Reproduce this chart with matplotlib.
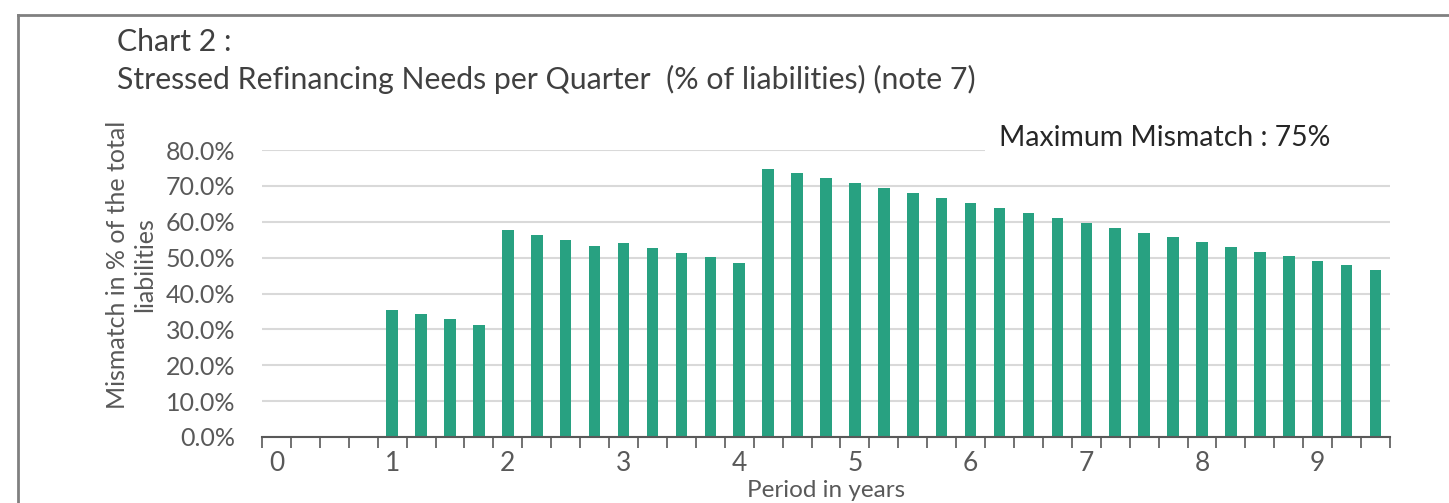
import numpy as np
import matplotlib
matplotlib.use('Agg')
import matplotlib.pyplot as plt
from matplotlib.patches import Rectangle

plt.rcParams['font.family'] = ['Lato', 'DejaVu Sans']

# quarters from 0 to 9.5 years
periods = np.arange(0, 9.75, 0.25)
mismatch = [0.0, 0.0, 0.0, 0.0,
            35.5, 34.3, 32.8, 31.3,
            57.7, 56.3, 54.9, 53.3,
            54.1, 52.7, 51.4, 50.1,
            48.6, 74.8, 73.5, 72.1,
            70.7, 69.3, 68.0, 66.6,
            65.3, 63.8, 62.5, 61.1,
            59.7, 58.3, 56.9, 55.7,
            54.4, 53.0, 51.6, 50.4,
            49.0, 47.9, 46.5]
year_labels = ['0', '1', '2', '3', '4', '5', '6', '7', '8', '9']
yticks = [0, 10, 20, 30, 40, 50, 60, 70, 80]

bar_color = '#28a181'
text_color = '#404040'
tick_color = '#595959'

fig = plt.figure(figsize=(14.49, 5.03), dpi=100)
ax = fig.add_axes([262 / 1449, 1 - 437 / 503, 1128 / 1449, 287 / 503])

x = np.arange(len(periods))
ax.bar(x, mismatch, width=0.4, color=bar_color, zorder=3)

ax.set_xlim(-0.5, len(periods) - 0.5)
ax.set_ylim(0, 80)
ax.set_yticks(yticks)
ax.set_yticklabels([f'{v:.1f}%' for v in yticks], fontsize=18, color=tick_color)
ax.tick_params(axis='y', length=0, pad=19)
ax.grid(axis='y', color='#d9d9d9', linewidth=1.5, zorder=0)

# ticks between categories, labels at whole years
ax.set_xticks(np.arange(-0.5, len(periods)), minor=True)
ax.set_xticks(x[::4])
ax.set_xticklabels(year_labels, fontsize=19, color=tick_color)
ax.tick_params(axis='x', which='major', length=0, pad=10)
ax.tick_params(axis='x', which='minor', length=8, width=1.2, color=tick_color, direction='out')

for s in ['top', 'right', 'left']:
    ax.spines[s].set_visible(False)
ax.spines['bottom'].set_color(tick_color)
ax.spines['bottom'].set_linewidth(1.5)
ax.spines['bottom'].set_zorder(4)

ax.set_xlabel('Period in years', fontsize=17.5, color=tick_color, labelpad=3)
fig.text(131 / 1449, 1 - 265 / 503, 'Mismatch in % of the total\nliabilities',
         rotation=90, ha='center', va='center', multialignment='center',
         fontsize=18, color=tick_color, linespacing=1.2)

# white box behind the annotation hides the top gridline on the right
fig.add_artist(Rectangle((985 / 1449, 1 - 156 / 503), 420 / 1449, 36 / 503,
                         facecolor='white', edgecolor='none',
                         transform=fig.transFigure, zorder=4))
fig.text(1330 / 1449, 1 - 138 / 503, 'Maximum Mismatch : 75%', ha='right', va='center',
         fontsize=20.4, color='#262626', zorder=5)

fig.text(117 / 1449, 1 - 42 / 503, 'Chart 2 :', fontsize=21.8, color=text_color, va='center')
fig.text(117 / 1449, 1 - 79 / 503,
         'Stressed Refinancing Needs per Quarter  (% of liabilities) (note 7)',
         fontsize=21.8, color=text_color, va='center')

# outer frame
fig.add_artist(plt.Line2D([18 / 1449, 18 / 1449], [0, 1 - 15 / 503],
                          color='#808080', linewidth=2, transform=fig.transFigure))
fig.add_artist(plt.Line2D([18 / 1449, 1], [1 - 15 / 503, 1 - 15 / 503],
                          color='#808080', linewidth=2, transform=fig.transFigure))

fig.savefig('out.png', dpi=100, facecolor='white')
